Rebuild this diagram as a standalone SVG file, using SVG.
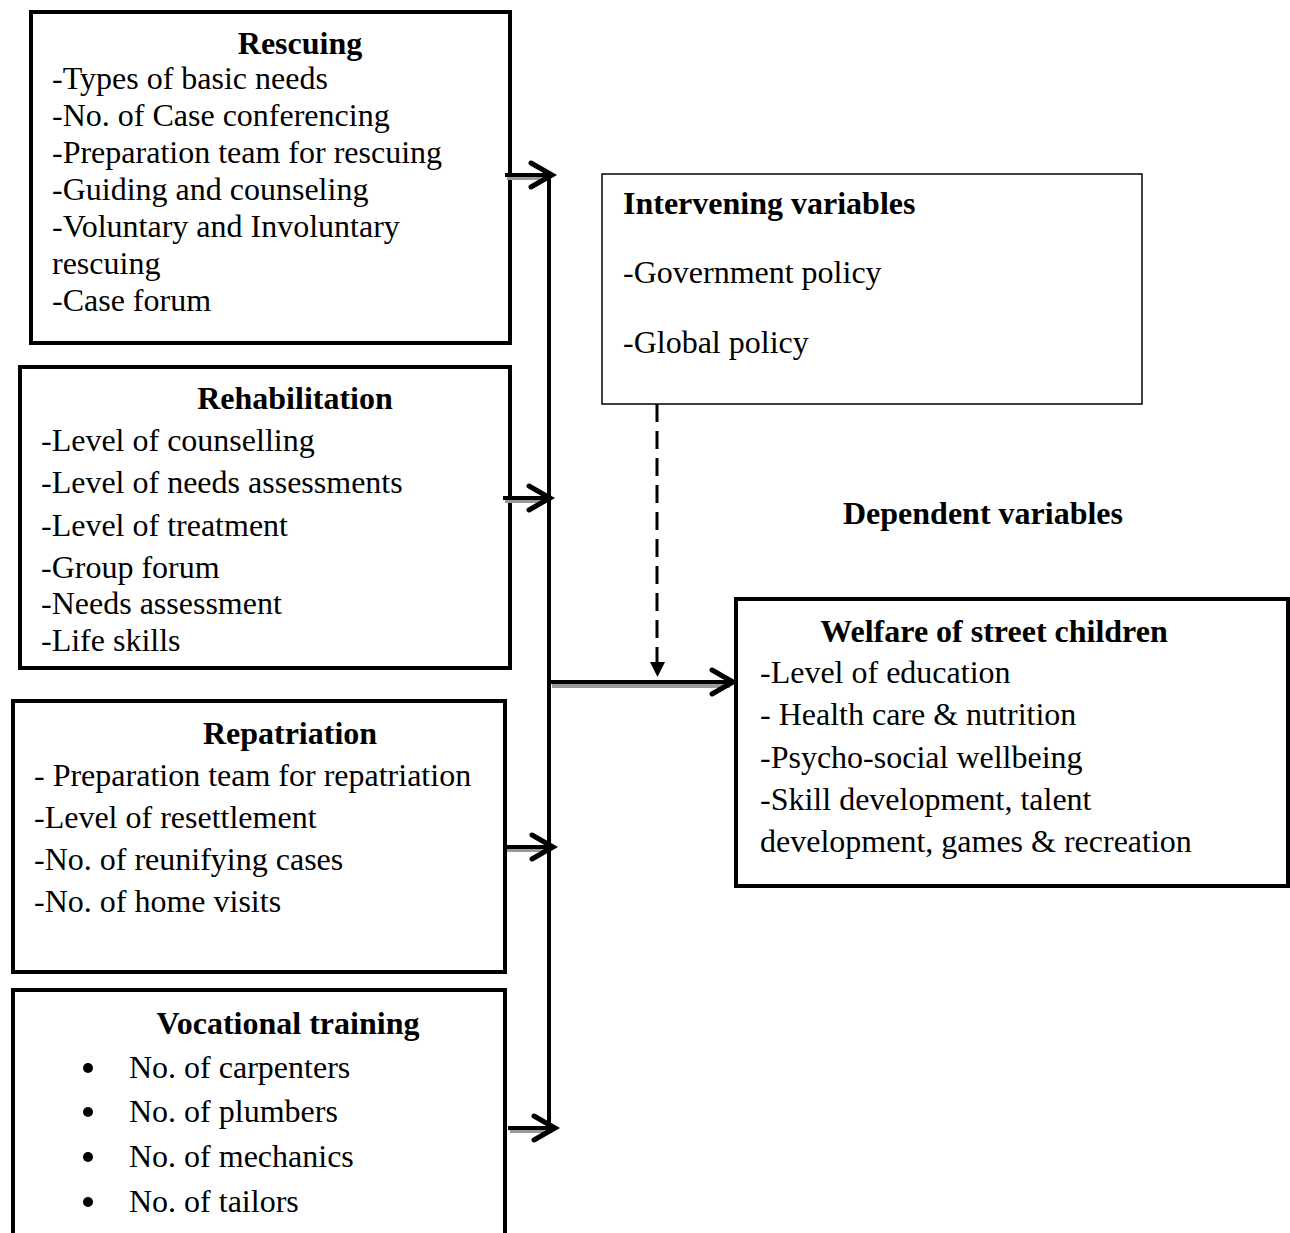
<svg xmlns="http://www.w3.org/2000/svg" width="1290" height="1233" viewBox="0 0 1290 1233">
<style>
text{font-family:"Liberation Serif","Times New Roman",serif;font-size:32px;fill:#000}
.t{font-weight:bold}
.m{text-anchor:middle}
.box{fill:#fff;stroke:#000;stroke-width:4}
.thin{fill:#fff;stroke:#000;stroke-width:1.5}
.ln{stroke:#000;stroke-width:4;fill:none}
.sh{stroke:#999;stroke-width:4;fill:none}
.hd{stroke:#000;stroke-width:5;fill:none;stroke-linecap:round;stroke-linejoin:miter}
</style>
<rect width="1290" height="1233" fill="#fff"/>
<g id="rescuing">
<rect class="box" x="31" y="12" width="479" height="331"/>
<text class="t m" x="300" y="54">Rescuing</text>
<text x="52" y="89">-Types of basic needs</text>
<text x="52" y="126">-No. of Case conferencing</text>
<text x="52" y="163">-Preparation team for rescuing</text>
<text x="52" y="200">-Guiding and counseling</text>
<text x="52" y="237">-Voluntary and Involuntary</text>
<text x="52" y="274">rescuing</text>
<text x="52" y="311">-Case forum</text>
</g>
<g id="rehabilitation">
<rect class="box" x="20" y="367" width="490" height="301"/>
<text class="t m" x="295" y="409">Rehabilitation</text>
<text x="41" y="451">-Level of counselling</text>
<text x="41" y="493">-Level of needs assessments</text>
<text x="41" y="536">-Level of treatment</text>
<text x="41" y="578">-Group forum</text>
<text x="41" y="614">-Needs assessment</text>
<text x="41" y="651">-Life skills</text>
</g>
<g id="repatriation">
<rect class="box" x="13" y="701" width="492" height="271"/>
<text class="t m" x="290" y="744">Repatriation</text>
<text x="34" y="786">- Preparation team for repatriation</text>
<text x="34" y="828">-Level of resettlement</text>
<text x="34" y="870">-No. of reunifying cases</text>
<text x="34" y="912">-No. of home visits</text>
</g>
<g id="vocational">
<path class="box" d="M13,1240 V990 H505 V1240"/>
<text class="t m" x="288" y="1034">Vocational training</text>
<circle cx="88" cy="1068" r="5"/>
<circle cx="88" cy="1112" r="5"/>
<circle cx="88" cy="1157" r="5"/>
<circle cx="88" cy="1202" r="5"/>
<text x="129" y="1078">No. of carpenters</text>
<text x="129" y="1122">No. of plumbers</text>
<text x="129" y="1167">No. of mechanics</text>
<text x="129" y="1212">No. of tailors</text>
</g>
<g id="intervening">
<rect class="thin" x="602" y="174" width="540" height="230"/>
<text class="t" x="623" y="214">Intervening variables</text>
<text x="623" y="283">-Government policy</text>
<text x="623" y="353">-Global policy</text>
</g>
<g id="dependent-label">
<text class="t" x="843" y="524">Dependent variables</text>
</g>
<g id="welfare">
<rect class="box" x="736" y="599" width="552" height="287"/>
<text class="t m" x="994" y="642">Welfare of street children</text>
<text x="760" y="683">-Level of education</text>
<text x="760" y="725">- Health care &amp; nutrition</text>
<text x="760" y="768">-Psycho-social wellbeing</text>
<text x="760" y="810">-Skill development, talent</text>
<text x="760" y="852">development, games &amp; recreation</text>
</g>
<g id="connectors">
<path class="sh" d="M507,178 H548 M505,501 H548 M507,850 H550 M510,1131 H552 M552,686 H730"/>
<path class="ln" d="M549,172 V1128"/>
<path class="ln" d="M505,175 H550 M503,498 H548 M505,847 H551 M508,1128 H553 M549,682 H731"/>
<path class="hd" d="M531,163 L552,175 L531,187 M529,486 L550,498 L529,510 M532,835 L553,847 L532,859 M534,1116 L555,1128 L534,1140 M712,670 L733,682 L712,694"/>
<path d="M657,404 V662" stroke="#000" stroke-width="3" stroke-dasharray="18,9" fill="none"/>
<path d="M650,662 H665 L657.5,677 Z" fill="#000"/>
</g>
</svg>
